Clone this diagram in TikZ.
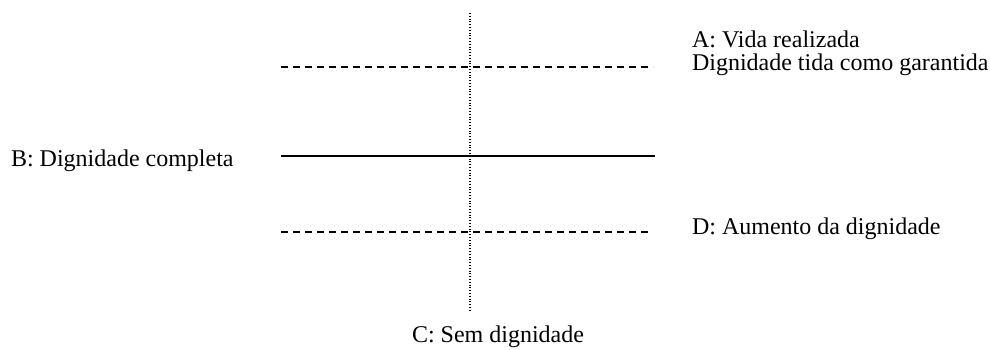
\documentclass[tikz,border=0pt]{standalone}
\usepackage{fontspec}
\setmainfont{Liberation Serif}
\begin{document}
\begin{tikzpicture}[x=1pt,y=-1pt,
  lbl/.style={anchor=base west,inner sep=0pt,outer sep=0pt,font=\fontsize{24}{25}\selectfont},
  dashline/.style={line width=1.8pt,dash pattern=on 7pt off 5pt},
  solidline/.style={line width=2pt},
  dotline/.style={line width=1.2pt,dash pattern=on 1pt off 1.8pt}]
\useasboundingbox (0,0) rectangle (990,349);
% vertical axis
\coordinate (vt) at (470,13);
\coordinate (vb) at (470,312);
\draw[dotline] (vt) -- (vb);
% horizontal lines
\coordinate (al) at (281,67);
\coordinate (ar) at (653,67);
\coordinate (bl) at (281,156);
\coordinate (br) at (655,156);
\coordinate (dl) at (281,232);
\coordinate (dr) at (652,232);
\draw[dashline] (al) -- (ar);
\draw[solidline] (bl) -- (br);
\draw[dashline] (dl) -- (dr);
% labels
\node[lbl] (A1) at (692,47) {A: Vida realizada};
\node[lbl] (A2) at (692,70) {Dignidade tida como garantida};
\node[lbl] (B) at (11,166) {B: Dignidade completa};
\node[lbl] (D) at (692,234) {D: Aumento da dignidade};
\node[lbl] (C) at (412,342.5) {C: Sem dignidade};
\end{tikzpicture}
\end{document}
